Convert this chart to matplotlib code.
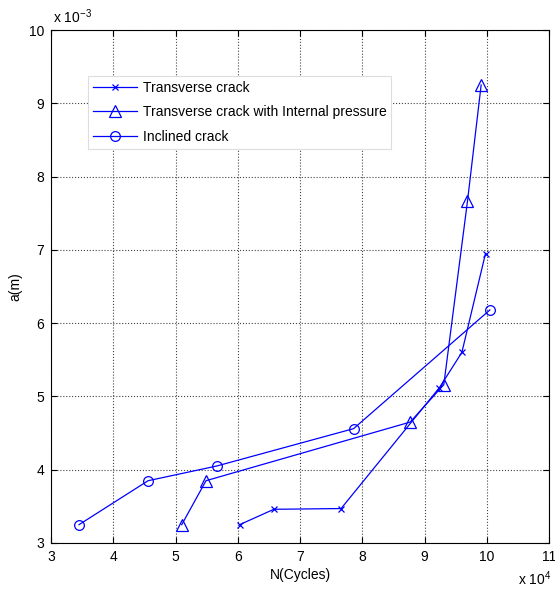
import matplotlib
matplotlib.use("Agg")
import matplotlib.pyplot as plt

plt.rcParams['font.family'] = ['Liberation Sans', 'DejaVu Sans']

# N in units of 1e4 cycles, a in units of 1e-3 m
trans_N = [6.03, 6.58, 7.66, 9.24, 9.60, 9.98]
trans_a = [3.25, 3.46, 3.47, 5.12, 5.60, 6.95]

press_N = [5.10, 5.49, 8.77, 9.31, 9.69, 9.91]
press_a = [3.25, 3.85, 4.65, 5.16, 7.66, 9.25]

incl_N = [3.45, 4.56, 5.66, 7.86, 10.05]
incl_a = [3.25, 3.85, 4.05, 4.56, 6.18]

labels = ["Transverse crack", "Transverse crack with Internal pressure", "Inclined crack"]
xticks = [3, 4, 5, 6, 7, 8, 9, 10, 11]
yticks = [3, 4, 5, 6, 7, 8, 9, 10]

fig = plt.figure(figsize=(5.55, 5.90), dpi=100)
ax = fig.add_axes([51/555, 47/590, 498/555, 513/590])

blue = '#0000ff'
ax.plot(trans_N, trans_a, color=blue, lw=0.9, marker='x', ms=4, mew=0.9, label=labels[0])
ax.plot(press_N, press_a, color=blue, lw=0.9, marker='^', ms=8, mfc='none', mew=0.9, label=labels[1])
ax.plot(incl_N, incl_a, color=blue, lw=0.9, marker='o', ms=7, mfc='none', mew=0.9, label=labels[2])

ax.set_xlim(3, 11)
ax.set_ylim(3, 10)
ax.set_xticks(xticks)
ax.set_yticks(yticks)
ax.tick_params(direction='in', top=True, right=True, length=4, width=0.8, labelsize=10, colors='black', pad=5)
ax.grid(True, color='#444444', linestyle=':', linewidth=0.8)
for s in ax.spines.values():
    s.set_linewidth(0.8)

ax.set_xlabel("N(Cycles)", fontsize=10, labelpad=3)
ax.set_ylabel("a(m)", fontsize=10)
ax.yaxis.set_label_coords(-0.058, 0.5)

ax.text(0.005, 1.008, r"x 10$^{\mathregular{-3}}$", transform=ax.transAxes, fontsize=10, ha='left', va='bottom')
ax.text(1.005, -0.052, r"x 10$^{\mathregular{4}}$", transform=ax.transAxes, fontsize=10, ha='right', va='top')

leg = ax.legend(loc='upper left', bbox_to_anchor=(37/498, 1 - 46/513), fontsize=10, frameon=True,
                fancybox=False, edgecolor='#dddddd', framealpha=1, borderpad=0.35, labelspacing=0.75,
                handlelength=3.2, handletextpad=0.4, borderaxespad=0)
leg.get_frame().set_linewidth(0.8)

fig.savefig("out.png", dpi=100, facecolor='white')
